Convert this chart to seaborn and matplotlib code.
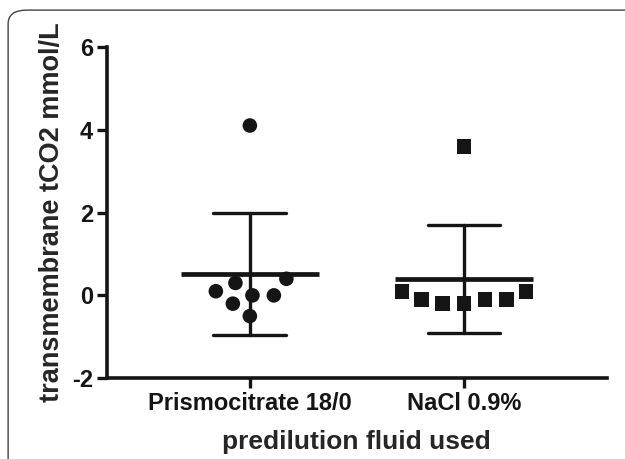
import pandas as pd
import numpy as np
import seaborn as sns
from matplotlib import pyplot as plt
from matplotlib.patches import FancyBboxPatch

# values
groups = ["Prismocitrate 18/0", "NaCl 0.9%"]
prismo_vals = [4.1, 0.3, 0.0, 0.0, 0.1, 0.4, -0.2, -0.5]
nacl_vals = [3.6, 0.1, -0.1, -0.1, -0.2, -0.2, -0.1, 0.1]
y_ticks = [-2, 0, 2, 4, 6]

df = pd.DataFrame({
    "fluid": [groups[0]] * len(prismo_vals) + [groups[1]] * len(nacl_vals),
    "tco2": prismo_vals + nacl_vals,
})

sns.set_style("ticks")
plt.rcParams["font.family"] = ["Liberation Sans", "DejaVu Sans"]
plt.rcParams["font.weight"] = "bold"

fig = plt.figure(figsize=(6.25, 4.59), dpi=100)
ax = fig.add_axes([0.171, 0.176, 0.80, 0.722])

# rounded frame around the panel
frame = FancyBboxPatch((0.013, -0.1), 1.1, 1.078, boxstyle="round,pad=0,rounding_size=0.03",
                       transform=fig.transFigure, facecolor="none", edgecolor="#444444",
                       linewidth=1.0, clip_on=False)
fig.patches.append(frame)

# mean +/- SD
sns.pointplot(data=df, x="fluid", y="tco2", order=groups, errorbar="sd", capsize=0.34,
              linestyle="none", marker="_", markersize=100, markeredgewidth=3.4,
              color="#151515", err_kws={"linewidth": 2.4}, ax=ax)

# invisible edge widens the swarm spacing without enlarging the dots
for g, mk in zip(groups, ["o", "s"]):
    sns.swarmplot(data=df[df["fluid"] == g], x="fluid", y="tco2", order=groups,
                  marker=mk, size=10.5, color="#151515", linewidth=4.2, edgecolor="none",
                  ax=ax)

ax.set_xlim(-0.668, 1.668)
ax.set_ylim(-2, 6)
ax.set_yticks(y_ticks)
ax.set_yticklabels([str(t) for t in y_ticks])
ax.set_ylabel("transmembrane tCO2 mmol/L", fontsize=19.5, fontweight="bold", labelpad=5)
ax.set_xlabel("predilution fluid used", fontsize=19, fontweight="bold", labelpad=11)
ax.tick_params(axis="both", width=2.4, length=7, colors="#151515", labelsize=17, pad=3)
for lab in ax.get_xticklabels() + ax.get_yticklabels():
    lab.set_fontweight("bold")
for s in ["left", "bottom"]:
    ax.spines[s].set_linewidth(2.6)
    ax.spines[s].set_color("#151515")
sns.despine(ax=ax)

fig.savefig("out.png", dpi=100)
